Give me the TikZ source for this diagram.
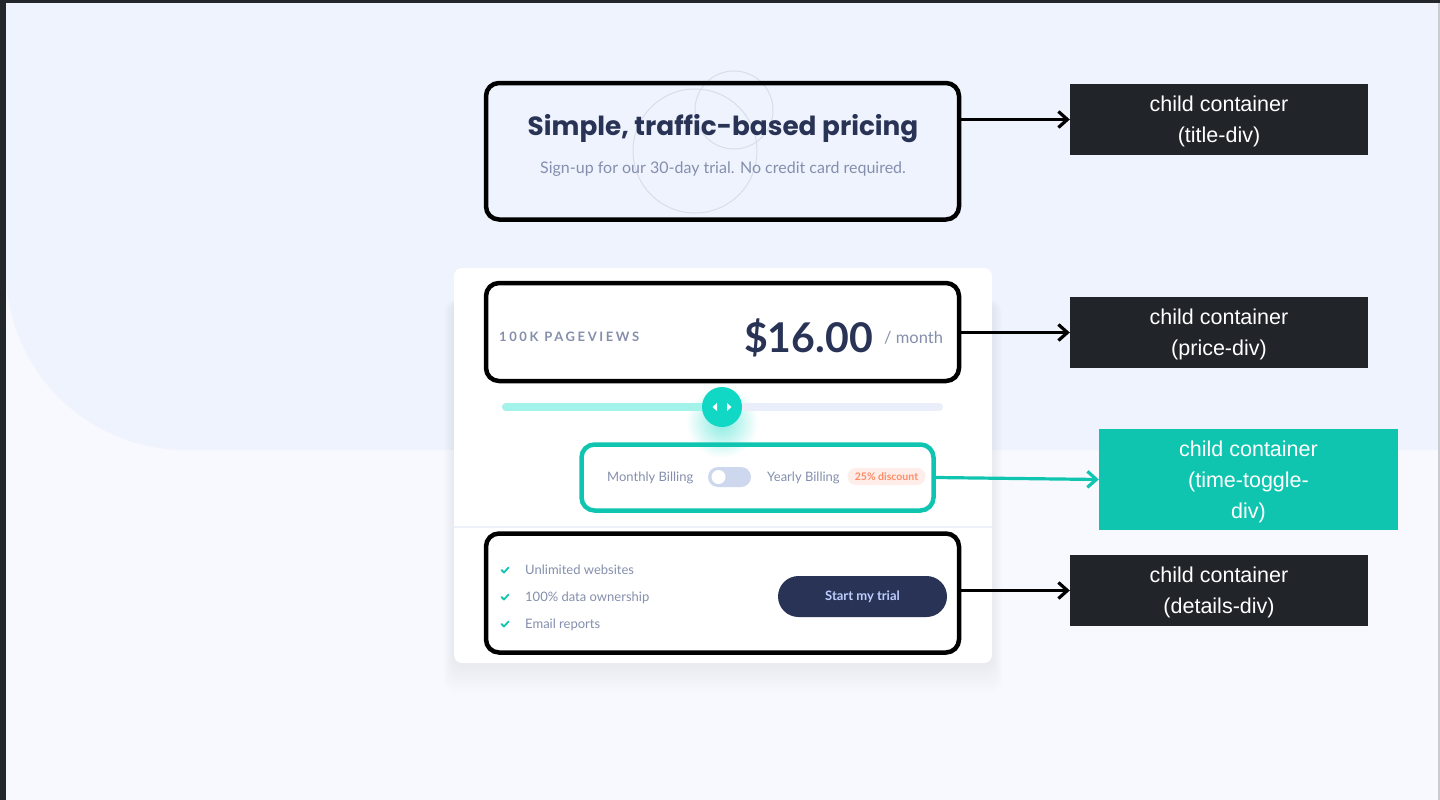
\documentclass[tikz,border=0pt]{standalone}
\usepackage{fontspec}
\setmainfont{Lato}
\newfontfamily\labfont{Liberation Sans}
\newfontfamily\titlefont{Poppins}
\newfontfamily\spacedfont{Lato}[LetterSpace=20]
\usetikzlibrary{arrows.meta}
\definecolor{frame}{HTML}{23272C}
\definecolor{bgtop}{HTML}{EFF3FD}
\definecolor{bgbot}{HTML}{F8F9FE}
\definecolor{edgegray}{HTML}{C9CCD1}
\definecolor{navy}{HTML}{293356}
\definecolor{greytxt}{HTML}{858FAD}
\definecolor{tealline}{HTML}{10C5B0}
\definecolor{knob}{HTML}{10D8C4}
\definecolor{trackfill}{HTML}{A4F3EB}
\definecolor{trackempty}{HTML}{EAEEFB}
\definecolor{togglebg}{HTML}{CDD7EE}
\definecolor{badgebg}{HTML}{FEEDE8}
\definecolor{badgetxt}{HTML}{FF8D68}
\definecolor{btntxt}{HTML}{BECDFF}
\definecolor{labdark}{HTML}{212429}
\definecolor{circ}{HTML}{D8DDEA}
\definecolor{shadowc}{HTML}{7C88BA}
\definecolor{divider}{HTML}{EEF1FA}
\begin{document}
\begin{tikzpicture}[x=1pt,y=-1pt,
  container/.style={draw=black, line width=4.5pt, rounded corners=13pt, inner sep=0pt},
  tealbox/.style={draw=tealline, line width=4.5pt, rounded corners=13pt, inner sep=0pt},
  lbl/.style={fill=labdark, text=white, font=\labfont\fontsize{21.5}{31}\selectfont, align=center, inner sep=0pt, minimum width=298pt, minimum height=71pt},
  arr/.style={line width=3.2pt, -{Straight Barb[length=9pt,width=16pt]}},
  txt/.style={inner sep=0pt, text=greytxt, font=\fontsize{13}{15}\selectfont},
  check/.style={draw=tealline, line width=1.8pt, line cap=round, line join=round}
]
\useasboundingbox (0,0) rectangle (1440,800);
% backgrounds
\fill[bgbot] (0,0) rectangle (1440,800);
\fill[bgtop] (6,3) -- (1438,3) -- (1438,450) -- (186,450) arc[start angle=90,end angle=180,radius=180] -- cycle;
\fill[frame] (0,0) rectangle (1440,3);
\fill[frame] (0,0) rectangle (6,800);
\fill[edgegray] (1438,3) rectangle (1440,800);

% decorative circles
\draw[circ, line width=1pt] (734,110) circle (39);
\draw[circ, line width=1pt] (695,151) circle (62);

% title texts
\node[inner sep=0pt, anchor=base, text=navy, font=\titlefont\bfseries\fontsize{26.3}{30}\selectfont] (ttitle) at (723,135) {Simple, traffic-based pricing};
\node[inner sep=0pt, anchor=base, text=greytxt, font=\fontsize{16}{18}\selectfont] (tsub) at (723,173) {Sign-up for our 30-day trial. No credit card required.};

% card shadow
\foreach \i in {0,2,...,30} {
  \fill[shadowc, opacity=0.006, rounded corners=12pt] (454-\i/3,300) rectangle (992+\i/3,663+\i);
}
% card
\node[fill=white, rounded corners=8pt, minimum width=538pt, minimum height=395pt, inner sep=0pt] (card) at (723,465.5) {};
\draw[divider, line width=1.2pt] (card.west |- 0,527) -- (card.east |- 0,527);

% price section
\node[inner sep=0pt, anchor=base west, text=greytxt, font=\spacedfont\bfseries\fontsize{13}{15}\selectfont] (pv) at (499,341) {100K PAGEVIEWS};
\node[inner sep=0pt, anchor=base east, text=navy, font=\bfseries\fontsize{41}{48}\selectfont] (price) at (873,352) {\$16.00};
\node[inner sep=0pt, anchor=base west, text=greytxt, font=\fontsize{16.5}{18}\selectfont] (month) at (884,343) {/ month};

% slider
\shade[inner color=knob!50, outer color=white] (722,422) circle (36);
\draw[trackempty, line width=8pt, line cap=round] (506,407) -- (939,407);
\draw[trackfill, line width=8pt, line cap=round] (506,407) -- (722,407);
\node[circle, fill=knob, minimum size=40pt, inner sep=0pt] (knobn) at (722,407) {};
\fill[white] (712.5,407) -- (717,403) -- (717,411) -- cycle;
\fill[white] (731.5,407) -- (727,403) -- (727,411) -- cycle;

% toggle row
\node[txt, anchor=base west] (mb) at (607,481) {Monthly Billing};
\node[fill=togglebg, rounded corners=10pt, minimum width=43pt, minimum height=20pt, inner sep=0pt] (sw) at (729.5,477) {};
\fill[white] (718.5,477) circle (7);
\node[txt, anchor=base west] (yb) at (767,481) {Yearly Billing};
\node[fill=badgebg, rounded corners=8.5pt, minimum width=78pt, minimum height=17pt, inner sep=0pt, text=badgetxt, font=\bfseries\fontsize{10.5}{12}\selectfont] (badge) at (886.5,476.5) {25\% discount};

% details
\draw[check] (501.5,570) -- (504,572.5) -- (508.5,567.5);
\draw[check] (501.5,597) -- (504,599.5) -- (508.5,594.5);
\draw[check] (501.5,624) -- (504,626.5) -- (508.5,621.5);
\node[txt, anchor=base west] (f1) at (525,574) {Unlimited websites};
\node[txt, anchor=base west] (f2) at (525,601) {100\% data ownership};
\node[txt, anchor=base west] (f3) at (525,628) {Email reports};
\node[fill=navy, rounded corners=20.5pt, minimum width=169pt, minimum height=41pt, inner sep=0pt, text=btntxt, font=\bfseries\fontsize{13}{15}\selectfont] (btn) at (862.5,596.5) {Start my trial};

% container outlines
\node[container, minimum width=473pt, minimum height=136.5pt] (tbox) at (722.5,151.25) {};
\node[container, minimum width=473pt, minimum height=98pt] (pbox) at (722.5,332) {};
\node[tealbox, minimum width=352pt, minimum height=66pt] (tgbox) at (757.5,477.5) {};
\node[container, minimum width=473pt, minimum height=119pt] (dbox) at (722.5,593) {};

% labels
\node[lbl] (tlab) at (1219,119.5) {};
\node[lbl, fill=none, minimum width=0pt, minimum height=0pt] (tlabt) at (1219,121) {child container\\(title-div)};
\node[lbl] (plab) at (1219,332.5) {};
\node[lbl, fill=none, minimum width=0pt, minimum height=0pt] (plabt) at (1219,334) {child container\\(price-div)};
\node[lbl, fill=tealline, minimum width=299pt, minimum height=101pt] (tglab) at (1248.5,479.5) {};
\node[lbl, fill=none, minimum width=0pt, minimum height=0pt] (tglabt) at (1248.5,481.5) {child container\\(time-toggle-\\div)};
\node[lbl] (dlab) at (1219,590.5) {};
\node[lbl, fill=none, minimum width=0pt, minimum height=0pt] (dlabt) at (1219,592) {child container\\(details-div)};

% connectors
\draw[arr] (tbox.east |- tlab.west) -- (tlab.west);
\draw[arr] (pbox.east |- plab.west) -- (plab.west);
\draw[arr, tealline] (tgbox.east) -- (tglab.west);
\draw[arr] (dbox.east |- dlab.west) -- (dlab.west);
\end{tikzpicture}
\end{document}
